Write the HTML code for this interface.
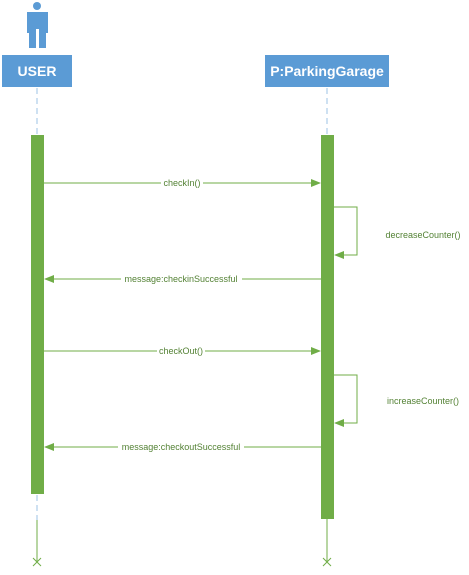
<!DOCTYPE html>
<html><head><meta charset="utf-8"><style>body{margin:0;background:#fff}</style></head><body>
<svg width="469" height="570" xmlns="http://www.w3.org/2000/svg" font-family="Liberation Sans, sans-serif">
<defs><marker id="a" markerWidth="10" markerHeight="10" refX="9" refY="4" orient="auto" markerUnits="userSpaceOnUse"><path d="M0,0 L10,4 L0,8 z" fill="#70ad47"/></marker></defs>
<!-- person -->
<circle cx="37" cy="6" r="4" fill="#5b9bd5"/>
<path d="M27,12 H48 V33 H46 V48 H39 V29 H36 V48 H29 V33 H27 z" fill="#5b9bd5"/>
<rect x="2" y="55" width="70" height="32" fill="#5b9bd5"/>
<text x="37" y="76" fill="#fff" font-size="14" font-weight="bold" text-anchor="middle">USER</text>
<rect x="265" y="55" width="124" height="32" fill="#5b9bd5"/>
<text x="327" y="76" fill="#fff" font-size="14" font-weight="bold" text-anchor="middle">P:ParkingGarage</text>
<g stroke="#9dc3e6" stroke-width="1" stroke-dasharray="6,4">
<line x1="37" y1="88" x2="37" y2="134"/><line x1="327" y1="88" x2="327" y2="134"/><line x1="37" y1="495" x2="37" y2="520"/></g>
<g stroke="#70ad47" stroke-width="1" fill="none">
<line x1="37" y1="520" x2="37" y2="562"/><line x1="327" y1="519" x2="327" y2="562"/>
<path d="M33,558 l8,8 M41,558 l-8,8 M323,558 l8,8 M331,558 l-8,8"/>
</g>
<rect x="31" y="135" width="13" height="359" fill="#70ad47"/>
<rect x="321" y="135" width="13" height="384" fill="#70ad47"/>
<g stroke="#70ad47" stroke-width="1" fill="none" marker-end="url(#a)">
<line x1="44" y1="183" x2="320" y2="183"/>
<path d="M334,207 H357 V255 H335"/>
<line x1="321" y1="279" x2="45" y2="279"/>
<line x1="44" y1="351" x2="320" y2="351"/>
<path d="M334,375 H357 V423 H335"/>
<line x1="321" y1="447" x2="45" y2="447"/>
</g>
<g font-size="9" fill="#548235" text-anchor="middle">
<rect x="161" y="178" width="42" height="10" fill="#fff"/><text x="182" y="186">checkIn()</text>
<rect x="121" y="274" width="121" height="10" fill="#fff"/><text x="181" y="282">message:checkinSuccessful</text>
<rect x="157" y="346" width="48" height="10" fill="#fff"/><text x="181" y="354">checkOut()</text>
<rect x="118" y="442" width="126" height="10" fill="#fff"/><text x="181" y="450">message:checkoutSuccessful</text>
<text x="423" y="238">decreaseCounter()</text>
<text x="423" y="404">increaseCounter()</text>
</g>
</svg>
</body></html>
